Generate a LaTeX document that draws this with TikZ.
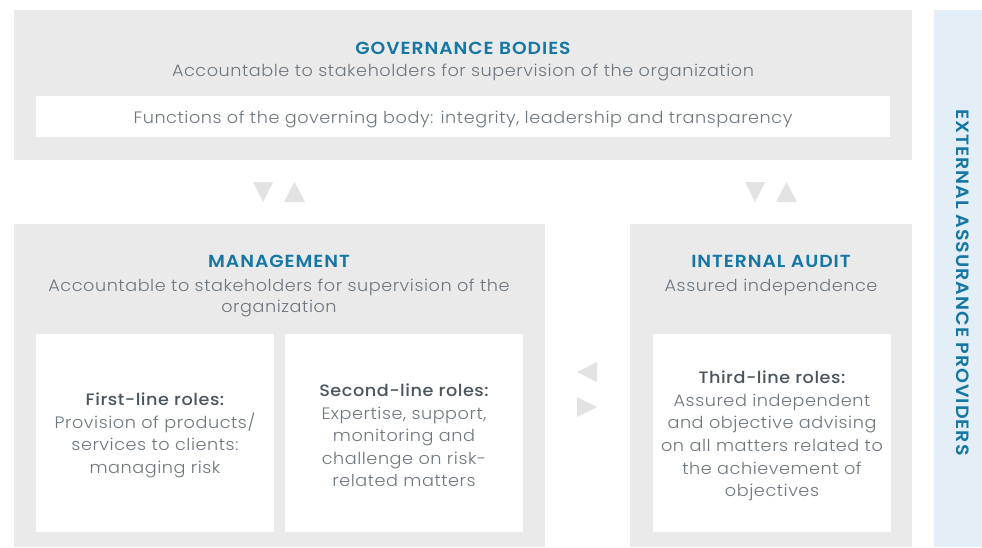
\documentclass[tikz,border=0pt]{standalone}
\usepackage{fontspec}
\IfFontExistsTF{Poppins Light}{\newfontfamily\bodyfont{Poppins Light}[FakeStretch=1.07,LetterSpace=3.3]}{\newfontfamily\bodyfont{Poppins}[FakeStretch=1.07,LetterSpace=3.3]}
\IfFontExistsTF{Poppins Medium}{\newfontfamily\headfont{Poppins Medium}[FakeStretch=1.07,LetterSpace=3.3]}{\newfontfamily\headfont{Poppins}[FakeStretch=1.07,LetterSpace=3.3]}
\IfFontExistsTF{Poppins SemiBold}{\newfontfamily\capsfont{Poppins SemiBold}[FakeStretch=1.07,LetterSpace=5.5]}{\newfontfamily\capsfont{Poppins}[FakeStretch=1.07,LetterSpace=5.5]}
\definecolor{panel}{HTML}{EAEAEA}
\definecolor{tri}{HTML}{E3E3E3}
\definecolor{blueT}{HTML}{1577A6}
\definecolor{txt}{HTML}{6E7780}
\definecolor{dark}{HTML}{4B555D}
\definecolor{ext}{HTML}{E3EEF6}
\begin{document}
\begin{tikzpicture}[x=1pt,y=-1pt,
  panelbox/.style={fill=panel,inner sep=0pt,outer sep=0pt,anchor=north west},
  whitebox/.style={fill=white,inner sep=0pt,outer sep=0pt,anchor=north west},
  titletext/.style={inner sep=0pt,text=blueT,font=\capsfont\fontsize{17.5}{20}\selectfont},
  bodytext/.style={inner sep=0pt,text=txt,align=center,font=\bodyfont\fontsize{16.5}{21.5}\selectfont},
  roletext/.style={inner sep=0pt,text=txt,align=center,font=\bodyfont\fontsize{16.5}{22.6}\selectfont}]
\useasboundingbox (0,0) rectangle (982,547);
\fill[white] (0,0) rectangle (982,547);
% panels
\node[panelbox,minimum width=898pt,minimum height=150pt] (gov) at (14,10) {};
\node[whitebox,minimum width=854pt,minimum height=41pt] (govfun) at (36,96) {};
\node[panelbox,minimum width=531pt,minimum height=323pt] (mgmt) at (14,224) {};
\node[panelbox,minimum width=282pt,minimum height=323pt] (audit) at (630,224) {};
\node[whitebox,minimum width=238pt,minimum height=198pt] (first) at (36,334) {};
\node[whitebox,minimum width=238pt,minimum height=198pt] (second) at (285,334) {};
\node[whitebox,minimum width=238pt,minimum height=198pt] (third) at (653,334) {};
\node[fill=ext,inner sep=0pt,outer sep=0pt,anchor=north west,minimum width=48pt,minimum height=537pt] (ext) at (934,10) {};
% triangles
\fill[tri] (253,182) -- (273,182) -- (263,202) -- cycle;
\fill[tri] (284,202) -- (305,202) -- (294.5,182) -- cycle;
\fill[tri] (745,182) -- (765,182) -- (755,202) -- cycle;
\fill[tri] (776,202) -- (797,202) -- (786.5,182) -- cycle;
\fill[tri] (597,362) -- (597,382) -- (577,372) -- cycle;
\fill[tri] (577,397) -- (577,417) -- (597,407) -- cycle;
% texts
\node[titletext] (govt) at (463,48) {GOVERNANCE BODIES};
\node[bodytext] (govs) at (463,72) {Accountable to stakeholders for supervision of the organization};
\node[bodytext] (govf) at (463,119) {Functions of the governing body: integrity, leadership and transparency};
\node[titletext] (mgmtt) at (279,261.5) {MANAGEMENT};
\node[bodytext] (mgmts) at (279,298) {Accountable to stakeholders for supervision of the\\organization};
\node[titletext] (auditt) at (771,261.5) {INTERNAL AUDIT};
\node[bodytext] (audits) at (771,287) {Assured independence};
\node[roletext] (firstt) at (155,435.5) {{\headfont\color{dark}First-line roles:}\\Provision of products/\\services to clients:\\managing risk};
\node[roletext] (secondt) at (404,435.5) {{\headfont\color{dark}Second-line roles:}\\Expertise, support,\\monitoring and\\challenge on risk-\\related matters};
\node[roletext] (thirdt) at (772,436) {{\headfont\color{dark}Third-line roles:}\\Assured independent\\and objective advising\\on all matters related to\\the achievement of\\objectives};
\node[titletext,rotate=-90,font=\capsfont\fontsize{17.8}{20}\selectfont] (extt) at (963,282.5) {EXTERNAL ASSURANCE PROVIDERS};
\end{tikzpicture}
\end{document}
